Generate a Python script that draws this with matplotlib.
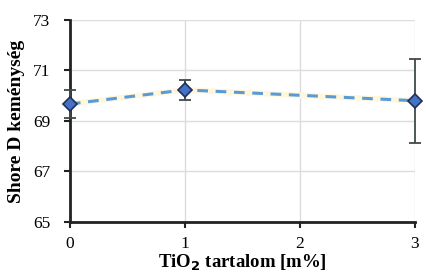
import matplotlib
matplotlib.use("Agg")
import matplotlib.pyplot as plt

# TiO2 content vs Shore D hardness
tio2 = [0, 1, 3]
hardness = [69.67, 70.23, 69.8]
err_lo = [0.55, 0.4, 1.67]
err_hi = [0.55, 0.4, 1.65]

y_ticks = [65, 67, 69, 71, 73]
x_ticks = [0, 1, 2, 3]

plt.rcParams["font.family"] = ["Liberation Serif", "DejaVu Serif"]

fig = plt.figure(figsize=(4.26, 2.77), dpi=100)
ax = fig.add_axes([0.164, 0.199, 0.810, 0.729])

# faint glow under the dashed line
ax.plot(tio2, hardness, color="#fff6dc", linewidth=4, solid_capstyle="round", zorder=2)
ax.plot(tio2, hardness, color="#5b9bd5", linewidth=2.2, linestyle=(0, (3.5, 2.5)), zorder=3)
ax.errorbar(tio2, hardness, yerr=[err_lo, err_hi], fmt="none", ecolor="#3f4a48",
            elinewidth=1.3, capsize=4, capthick=1.3, zorder=4, clip_on=False)
ax.plot(tio2, hardness, linestyle="none", marker="D", markersize=7,
        markerfacecolor="#4472c4", markeredgecolor="#1f2f5a", markeredgewidth=1.2,
        zorder=5, clip_on=False)

ax.set_xlim(0, 3)
ax.set_ylim(65, 73)
ax.set_xticks(x_ticks)
ax.set_yticks(y_ticks)
ax.grid(True, color="#dcdcdc", linewidth=1)
ax.set_axisbelow(True)

for s in ("top", "right"):
    ax.spines[s].set_visible(False)
for s in ("left", "bottom"):
    ax.spines[s].set_linewidth(2)
    ax.spines[s].set_color("#222222")

ax.tick_params(axis="both", labelsize=12.5, width=1.5, length=4, color="#222222")
ax.tick_params(axis="x", pad=6)
ax.tick_params(axis="y", pad=10)
ax.set_ylabel("Shore D keménység", fontsize=14, fontweight="bold", labelpad=6)
ax.set_xlabel("TiO$_\\mathbf{2}$ tartalom [m%]", fontsize=13.5, fontweight="bold", labelpad=1)

fig.savefig("out.png", dpi=100)
